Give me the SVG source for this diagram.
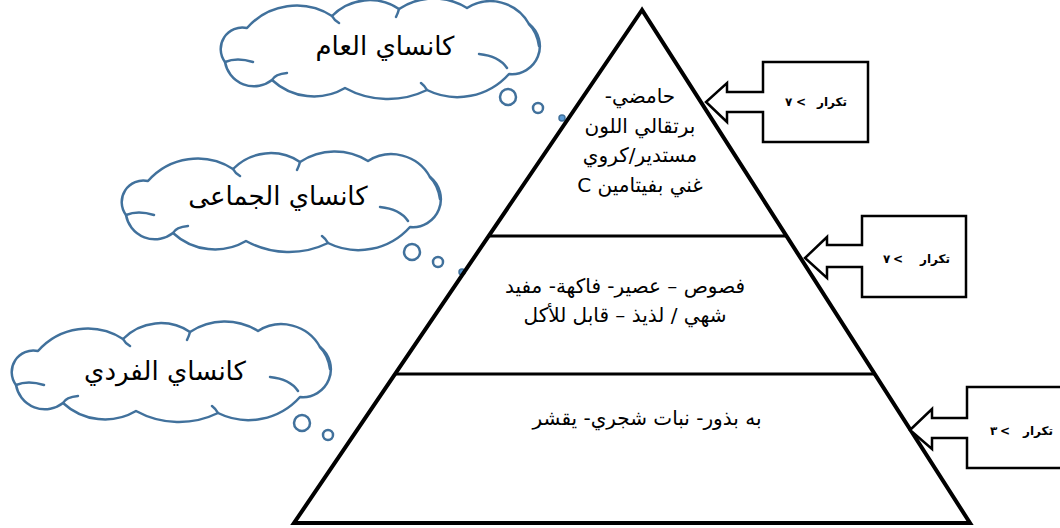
<svg xmlns="http://www.w3.org/2000/svg" xmlns:xlink="http://www.w3.org/1999/xlink" width="1060" height="528" viewBox="0 0 1060 528">
<style>
.cloud{fill:#fff;stroke:#41719C;stroke-width:2.5;stroke-linejoin:round}
.curl{fill:none;stroke:#41719C;stroke-width:2.5;stroke-linecap:round}
.bub{fill:#fff;stroke:#41719C;stroke-width:2.5}
.dot{fill:#5B9BD5;stroke:#41719C;stroke-width:1.5}
.ct{font-family:"DejaVu Sans",sans-serif;font-size:26px;fill:#000;text-anchor:middle;direction:rtl}
.pt{font-family:"DejaVu Sans",sans-serif;font-size:20px;fill:#000;text-anchor:middle;direction:rtl}
.edge{fill:none;stroke:#000;stroke-width:4;stroke-linejoin:miter}
.div{stroke:#000;stroke-width:3}
.call{fill:#fff;stroke:#000;stroke-width:2.5;stroke-linejoin:miter}
.bt{font-family:"DejaVu Sans",sans-serif;font-size:12px;font-weight:bold;fill:#000}
</style>
<defs>
<g id="cloudShape">
<path class="cloud" d="M8,60 A21.6,21.6 0 0 1 30,26 A65.8,65.8 0 0 1 115,14 A52.8,52.8 0 0 1 182,7 A62.8,62.8 0 0 1 250,6 A44,44 0 0 1 312,22 A28,28 0 0 1 292,72 A69,69 0 0 1 210,88 A89,89 0 0 1 128,86 A61.5,61.5 0 0 1 55,78 A29.3,29.3 0 0 1 8,60 Z"/>
<path class="curl" d="M8,60 Q20,55 36,60 M322,44 Q320,30 312,22 M290,66 Q282,54 262,52 M55,78 Q58,72 70,71 M115,14 Q117,18 122,21 M182,7 Q181,11 179,15 M210,88 Q208,84 204,81"/>
</g>
</defs>

<g id="cloud-general">
<use xlink:href="#cloudShape" transform="translate(217,2)"/>
<circle class="bub" cx="508" cy="97" r="8"/>
<circle class="bub" cx="538" cy="108" r="5"/>
<circle class="dot" cx="562" cy="118" r="3"/>
<text class="ct" x="385" y="55">كانساي العام</text>
</g>

<g id="cloud-collective">
<use xlink:href="#cloudShape" transform="translate(118,155)"/>
<circle class="bub" cx="412" cy="252" r="8"/>
<circle class="bub" cx="438" cy="262" r="5"/>
<circle class="dot" cx="462" cy="272" r="3"/>
<text class="ct" x="278" y="205">كانساي الجماعى</text>
</g>

<g id="cloud-individual">
<use xlink:href="#cloudShape" transform="translate(8,325)"/>
<circle class="bub" cx="302" cy="423" r="8"/>
<circle class="bub" cx="328" cy="435" r="5"/>
<text class="ct" x="165" y="380">كانساي الفردي</text>
</g>

<g id="pyramid">
<path class="edge" d="M642,10 L294,523 L970,523 Z"/>
<line class="div" x1="489" y1="236" x2="786" y2="236"/>
<line class="div" x1="395" y1="374" x2="875" y2="374"/>
</g>

<g id="level-top">
<text class="pt" x="640" y="103">حامضي-</text>
<text class="pt" x="640" y="133">برتقالي اللون</text>
<text class="pt" x="640" y="162">مستدير/كروي</text>
<text class="pt" x="640" y="192">غني بفيتامين C</text>
</g>

<g id="level-middle">
<text class="pt" x="625" y="293">فصوص – عصير- فاكهة- مفيد</text>
<text class="pt" x="625" y="322">شهي / لذيذ – قابل للأكل</text>
</g>

<g id="level-bottom">
<text class="pt" x="647" y="425">به بذور- نبات شجري- يقشر</text>
</g>

<g id="connectors">
<g id="callout-1">
<path class="call" d="M763,62 H868 V142 H763 V112 H727 V122 L706,102 L727,83 V92 H763 Z"/>
<text class="bt" x="847" y="106" text-anchor="end">تكرار</text>
<text class="bt" x="801" y="106" text-anchor="middle">&lt;</text>
<text class="bt" x="785" y="106" text-anchor="start">٧</text>
</g>
<g id="callout-2">
<path class="call" d="M862,216 H966 V297 H862 V267 H827 V278 L805,258 L827,237 V245 H862 Z"/>
<text class="bt" x="950" y="263" text-anchor="end">تكرار</text>
<text class="bt" x="898" y="263" text-anchor="middle">&lt;</text>
<text class="bt" x="883" y="263" text-anchor="start">٧</text>
</g>
<g id="callout-3">
<path class="call" d="M967,387 H1070 V468 H967 V438 H932 V449 L910,430 L932,409 V418 H967 Z"/>
<text class="bt" x="1053" y="435" text-anchor="end">تكرار</text>
<text class="bt" x="1005" y="435" text-anchor="middle">&lt;</text>
<text class="bt" x="990" y="435" text-anchor="start">٣</text>
</g>
</g>
</svg>
